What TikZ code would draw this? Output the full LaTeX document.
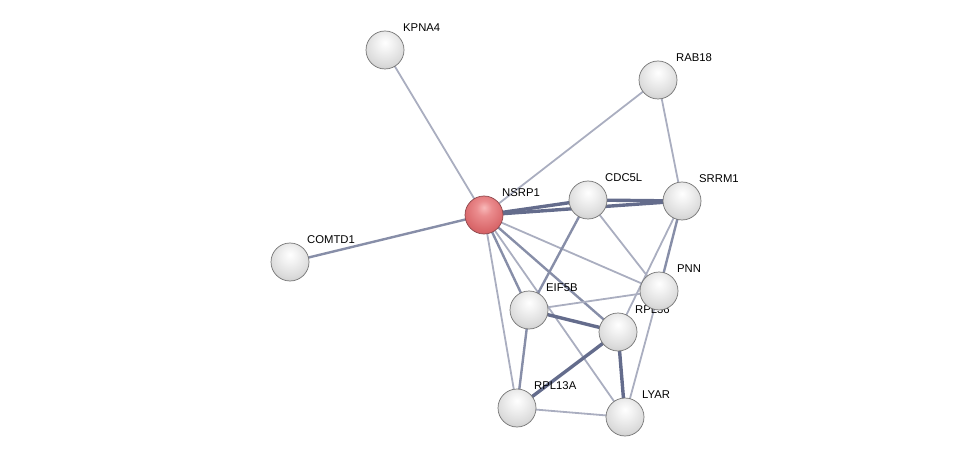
\documentclass[tikz,border=0pt]{standalone}
\usepackage{fontspec}
\setmainfont{Liberation Sans}
\pgfdeclareradialshading{greysphere}{\pgfpoint{0bp}{10bp}}{%
  color(0bp)=(white);
  color(10bp)=(white!95!black);
  color(26bp)=(white!86!black);
  color(38bp)=(white!76!black);
  color(48bp)=(white!58!black);
  color(80bp)=(white!45!black)}
\pgfdeclareradialshading{redsphere}{\pgfpoint{0bp}{10bp}}{%
  color(0bp)=(rgb,255:red,248;green,185;blue,185);
  color(10bp)=(rgb,255:red,235;green,140;blue,142);
  color(26bp)=(rgb,255:red,218;green,105;blue,108);
  color(38bp)=(rgb,255:red,200;green,85;blue,90);
  color(48bp)=(rgb,255:red,150;green,50;blue,55);
  color(80bp)=(rgb,255:red,120;green,35;blue,40)}
\begin{document}
\begin{tikzpicture}[x=1pt,y=-1pt,
  prot/.style={circle,minimum size=38pt,inner sep=0pt,draw={rgb,255:red,115;green,115;blue,115},line width=0.7pt,shading=greysphere},
  query/.style={prot,shading=redsphere,draw={rgb,255:red,140;green,70;blue,75}},
  lbl/.style={anchor=west,inner sep=1pt,font=\fontsize{11.3}{13}\selectfont,text=black},
  thin/.style={line width=1.8pt,draw={rgb,255:red,170;green,174;blue,192}},
  med/.style={line width=2.4pt,draw={rgb,255:red,135;green,142;blue,168}},
  thick/.style={line width=3.4pt,draw={rgb,255:red,100;green,108;blue,140}}]
\useasboundingbox (0,0) rectangle (976,462);
% node coordinates
\coordinate (KPNA4) at (385,50);
\coordinate (RAB18) at (658,80);
\coordinate (NSRP1) at (484,215);
\coordinate (CDC5L) at (588,200);
\coordinate (SRRM1) at (682,201);
\coordinate (COMTD1) at (290,262);
\coordinate (PNN) at (659,291);
\coordinate (EIF5B) at (529,310);
\coordinate (RPL36) at (618,332);
\coordinate (RPL13A) at (517,408);
\coordinate (LYAR) at (625,417);
% edges
\draw[thin] (KPNA4) -- (NSRP1);
\draw[med] (COMTD1) -- (NSRP1);
\draw[thin] (RAB18) -- (NSRP1);
\draw[thin] (RAB18) -- (SRRM1);
\draw[thin] (NSRP1) -- (PNN);
\draw[thin] (NSRP1) -- (LYAR);
\draw[thin] (NSRP1) -- (RPL13A);
\draw[med] (NSRP1) -- (EIF5B);
\draw[med] (NSRP1) -- (RPL36);
\draw[thin] (CDC5L) -- (PNN);
\draw[thin] (SRRM1) -- (RPL36);
\draw[thin] (PNN) -- (LYAR);
\draw[thin] (EIF5B) -- (PNN);
\draw[thin] (RPL13A) -- (LYAR);
\draw[med] (EIF5B) -- (RPL13A);
\draw[med] (CDC5L) -- (EIF5B);
\draw[med] (SRRM1) -- (PNN);
\draw[thick] (NSRP1) -- (CDC5L);
\draw[thick] (NSRP1) -- (SRRM1);
\draw[thick] (CDC5L) -- (SRRM1);
\draw[thick] (EIF5B) -- (RPL36);
\draw[thick] (RPL36) -- (RPL13A);
\draw[thick] (RPL36) -- (LYAR);
% labels
\node[lbl] (lKPNA4) at (402,28) {KPNA4};
\node[lbl] (lRAB18) at (675,58) {RAB18};
\node[lbl] (lNSRP1) at (501,193) {NSRP1};
\node[lbl] (lCDC5L) at (604,178) {CDC5L};
\node[lbl] (lSRRM1) at (698,179) {SRRM1};
\node[lbl] (lCOMTD1) at (306,240) {COMTD1};
\node[lbl] (lPNN) at (676,269) {PNN};
\node[lbl] (lEIF5B) at (545,288) {EIF5B};
\node[lbl] (lRPL36) at (634,310) {RPL36};
\node[lbl] (lRPL13A) at (533,386) {RPL13A};
\node[lbl] (lLYAR) at (641,395) {LYAR};
% nodes
\node[prot] (nKPNA4) at (KPNA4) {};
\node[prot] (nRAB18) at (RAB18) {};
\node[prot] (nCOMTD1) at (COMTD1) {};
\node[prot] (nCDC5L) at (CDC5L) {};
\node[prot] (nSRRM1) at (SRRM1) {};
\node[prot] (nEIF5B) at (EIF5B) {};
\node[prot] (nRPL36) at (RPL36) {};
\node[prot] (nPNN) at (PNN) {};
\node[prot] (nRPL13A) at (RPL13A) {};
\node[prot] (nLYAR) at (LYAR) {};
\node[query] (nNSRP1) at (NSRP1) {};
\end{tikzpicture}
\end{document}
